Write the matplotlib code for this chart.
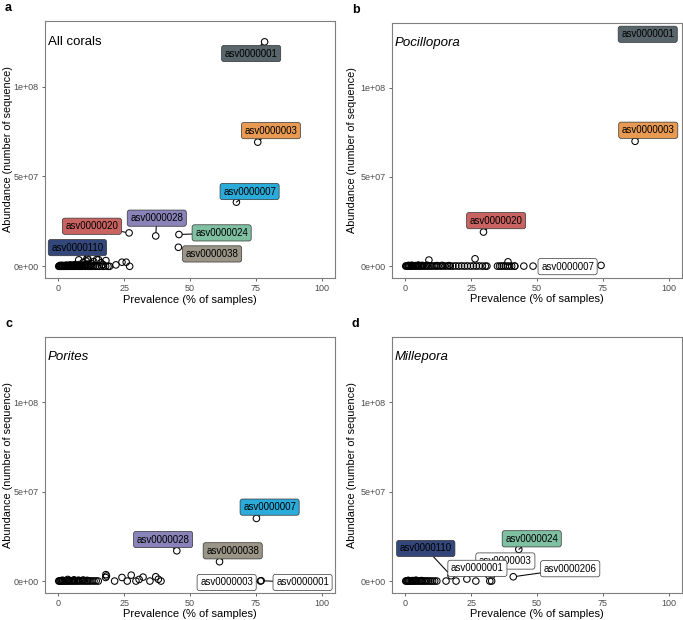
import matplotlib
matplotlib.use("Agg")
import matplotlib.pyplot as plt
import numpy as np

plt.rcParams['font.family'] = ['Liberation Sans', 'DejaVu Sans']

# colours of the highlighted ASVs
asv_colors = {
    'asv0000001': '#58656b',
    'asv0000003': '#e89a52',
    'asv0000007': '#2aabd9',
    'asv0000020': '#c96361',
    'asv0000028': '#8a83b9',
    'asv0000024': '#80c0a2',
    'asv0000038': '#9a9586',
    'asv0000110': '#34477a',
    'asv0000206': 'white',
}

# ---- panel a : all corals (prevalence %, abundance in millions)
a_x = [0.2, 0.4, 0.6, 0.9, 1.1, 1.4, 1.7, 2.0, 2.3, 2.6, 2.9, 3.3, 3.6, 4.0, 4.4, 4.8,
       5.2, 5.6, 6.0, 6.5, 6.9, 7.4, 7.8, 8.3, 8.8, 9.3, 9.8, 10.3, 10.9, 11.5, 12.1,
       12.8, 13.4, 14.1, 14.8, 15.6, 16.4, 17.2, 18.0, 18.9, 19.5, 7.8, 9.5, 10.6,
       11.4, 13.5, 14.6, 15.3, 16.2, 18.1, 21.9, 24.2, 25.8, 27.1, 17.0, 12.6,
       0.7, 1.5, 2.4, 3.1, 3.9, 4.6, 5.4, 6.2, 7.1, 8.0, 9.0, 10.1, 11.2, 12.4]
a_y = [0.0, 0.1, 0.0, 0.2, 0.0, 0.1, 0.0, 0.3, 0.0, 0.1, 0.0, 0.2, 0.0, 0.1, 0.3, 0.0,
       0.1, 0.0, 0.2, 0.0, 0.1, 0.4, 0.0, 0.2, 0.0, 0.1, 0.3, 0.0, 0.2, 0.0, 0.1,
       0.0, 0.3, 0.0, 0.1, 0.0, 0.2, 0.0, 0.1, 0.0, 0.0, 3.6, 2.2, 3.0, 3.6, 2.6,
       3.8, 3.7, 2.0, 3.2, 0.8, 2.3, 2.3, 0.0, 1.0, 1.5,
       0.5, 0.6, 0.4, 0.7, 0.5, 0.8, 0.6, 0.9, 0.5, 1.0, 0.6, 0.8, 1.2, 0.7]
a_names = ['asv0000001', 'asv0000003', 'asv0000007', 'asv0000020', 'asv0000028',
           'asv0000024', 'asv0000038', 'asv0000110']
a_px = [78.3, 75.7, 67.6, 26.9, 37.0, 45.8, 45.6, 11.0]
a_py = [124.9, 69.1, 35.7, 18.6, 16.9, 17.7, 10.6, 4.5]

# ---- panel b : Pocillopora
b_x = [0.2, 0.5, 0.8, 1.1, 1.5, 1.9, 2.3, 2.7, 3.1, 3.6, 4.1, 4.6, 5.1, 5.6, 6.2,
       6.8, 7.4, 8.0, 8.7, 9.4, 10.1, 10.9, 11.7, 12.5, 13.4, 14.3, 15.2, 16.1, 17.1,
       18.1, 19.2, 20.3, 21.4, 22.5, 23.6, 24.8, 25.9, 27.0, 28.1, 29.3, 30.4, 31.0,
       35.0, 35.8, 36.5, 37.2, 38.0, 38.8, 39.6, 40.4, 41.5, 41.6, 45.0, 48.5,
       9.0, 26.5, 39.0, 1.3, 2.5, 3.8, 5.0, 6.5, 8.3, 12.0, 14.0, 16.6]
b_y = [0.0, 0.1, 0.0, 0.2, 0.0, 0.1, 0.0, 0.2, 0.0, 0.1, 0.0, 0.2, 0.0, 0.1, 0.0,
       0.2, 0.0, 0.1, 0.0, 0.1, 0.0, 0.1, 0.0, 0.1, 0.0, 0.1, 0.0, 0.1, 0.0,
       0.0, 0.1, 0.0, 0.1, 0.0, 0.1, 0.0, 0.1, 0.0, 0.1, 0.0, 0.0, 0.0,
       0.0, 0.0, 0.0, 0.1, 0.0, 0.0, 0.0, 0.0, 0.0, 0.0, 0.0, 0.0,
       3.4, 4.1, 2.4, 0.4, 0.5, 0.3, 0.6, 0.4, 0.5, 0.3, 0.4, 0.3]
b_names = ['asv0000001', 'asv0000003', 'asv0000020', 'asv0000007']
b_px = [88.0, 87.2, 29.7, 74.3]
b_py = [129.5, 70.0, 19.1, 0.4]

# ---- panel c : Porites
c_x = [0.2, 0.5, 0.8, 1.1, 1.4, 1.8, 2.2, 2.6, 3.0, 3.4, 3.9, 4.3, 4.8, 5.3, 5.8,
       6.3, 6.8, 7.4, 8.0, 8.6, 9.2, 9.9, 10.6, 11.3, 12.0, 12.8, 13.6, 14.4, 15.2,
       18.1, 18.3, 18.0, 21.4, 24.2, 26.2, 27.7, 29.5, 30.7, 32.2, 34.8, 37.0, 38.0, 39.0,
       1.6, 3.6, 4.0, 6.0, 7.7, 9.5, 11.0]
c_y = [0.0, 0.1, 0.0, 0.2, 0.0, 0.1, 0.0, 0.2, 0.0, 0.1, 0.0, 0.3, 0.0, 0.1, 0.0,
       0.2, 0.0, 0.1, 0.0, 0.2, 0.0, 0.1, 0.0, 0.1, 0.0, 0.1, 0.0, 0.1, 0.0,
       3.6, 2.8, 2.0, 0.0, 2.0, 0.0, 3.3, 0.0, 0.9, 2.2, 0.0, 2.4, 1.0, 0.0,
       0.5, 0.9, 0.4, 0.7, 0.5, 0.6, 0.4]
c_names = ['asv0000007', 'asv0000028', 'asv0000038', 'asv0000003', 'asv0000001']
c_px = [75.2, 45.0, 61.2, 76.7, 77.0]
c_py = [35.0, 16.9, 10.8, 0.0, 0.2]

# ---- panel d : Millepora
d_x = [0.2, 0.5, 0.8, 1.1, 1.4, 1.8, 2.2, 2.6, 3.0, 3.4, 3.9, 4.4, 4.9, 5.4, 5.9,
       6.5, 7.1, 7.7, 8.3, 9.0, 9.7, 10.4, 11.2, 12.0, 15.5, 19.3, 23.4, 26.8,
       1.2, 2.8, 4.1, 6.2]
d_y = [0.0, 0.1, 0.0, 0.1, 0.0, 0.1, 0.0, 0.1, 0.0, 0.1, 0.0, 0.1, 0.0, 0.1, 0.0,
       0.1, 0.0, 0.0, 0.1, 0.0, 0.0, 0.0, 0.0, 0.0, 0.0, 0.0, 1.1, 0.0,
       0.4, 0.3, 0.5, 0.3]
d_names = ['asv0000024', 'asv0000110', 'asv0000003', 'asv0000001', 'asv0000206']
d_px = [43.1, 17.4, 32.8, 32.1, 41.0]
d_py = [17.7, 3.0, 0.0, 0.0, 2.4]

# where the repelled labels sit (x %, y millions)
label_pos = {
    'a': [(73.2, 118.4), (80.7, 75.5), (72.6, 41.6), (12.8, 22.3), (37.4, 26.8),
          (62.0, 18.6), (58.4, 6.9), (7.3, 10.4)],
    'b': [(92.0, 130.0), (92.2, 76.2), (34.5, 25.5), (61.6, -0.3)],
    'c': [(80.2, 41.3), (39.8, 23.2), (66.2, 16.9), (63.9, -0.8), (92.7, -0.8)],
    'd': [(48.0, 23.6), (7.8, 18.2), (38.0, 11.2), (27.4, 7.1), (62.6, 6.9)],
}

# labels drawn white in panels b-d (ASV not characteristic for that coral)
white_labels = {
    'b': ['asv0000007'],
    'c': ['asv0000003', 'asv0000001'],
    'd': ['asv0000003', 'asv0000001', 'asv0000206'],
}

W, H = 683, 620
fig = plt.figure(figsize=(W / 100, H / 100), dpi=100)


def px_axes(left, top, right, bottom):
    return fig.add_axes([left / W, 1 - bottom / H, (right - left) / W, (bottom - top) / H])


panels = [
    ('a', 'All corals', 'normal', (45, 21, 335, 278), a_x, a_y, a_names, a_px, a_py),
    ('b', 'Pocillopora', 'italic', (392, 22.7, 682, 277.7), b_x, b_y, b_names, b_px, b_py),
    ('c', 'Porites', 'italic', (45, 336.7, 335, 592.7), c_x, c_y, c_names, c_px, c_py),
    ('d', 'Millepora', 'italic', (392, 336.7, 682, 592.7), d_x, d_y, d_names, d_px, d_py),
]

for key, title, style, box, xs, ys, names, pxs, pys in panels:
    ax = px_axes(*box)
    ax.scatter(xs, np.array(ys) * 1e6, s=22, facecolors='none', edgecolors='black',
               linewidths=0.75, zorder=2)
    ax.scatter(pxs, np.array(pys) * 1e6, s=22, facecolors='none', edgecolors='black',
               linewidths=0.75, zorder=2)
    for name, px, py, (lx, ly) in zip(names, pxs, pys, label_pos[key]):
        fc = 'white' if name in white_labels.get(key, []) else asv_colors[name]
        ax.annotate(name, xy=(px, py * 1e6), xytext=(lx, ly * 1e6),
                    ha='center', va='center', fontsize=7, color='black', zorder=4,
                    bbox=dict(boxstyle='round,pad=0.32,rounding_size=0.25', fc=fc,
                              ec='#333333', lw=0.5),
                    arrowprops=dict(arrowstyle='-', color='black', lw=0.75,
                                    shrinkA=0, shrinkB=2.6))
    ax.set_xlim(-5, 105)
    ax.set_ylim(-6.5e6, 1.365e8)
    ax.set_xticks([0, 25, 50, 75, 100])
    ax.set_xticklabels(['0', '25', '50', '75', '100'])
    ax.set_yticks([0, 5e7, 1e8])
    ax.set_yticklabels(['0e+00', '5e+07', '1e+08'])
    ax.tick_params(labelsize=6.5, colors='#4d4d4d', length=2.5, width=0.6, pad=2)
    for sp in ax.spines.values():
        sp.set_color('#7f7f7f')
        sp.set_linewidth(0.8)
    ax.set_xlabel('Prevalence (% of samples)', fontsize=8, labelpad=1)
    ax.set_ylabel('Abundance (number of sequence)', fontsize=7.8)
    ylab_x = -0.110 if key in 'ac' else -0.121
    ax.yaxis.set_label_coords(ylab_x, 0.5)
    ax.text(0.01, 0.92, title, transform=ax.transAxes, fontsize=9.5, style=style,
            ha='left', va='center')
    fig.text((box[0] - 40) / W, 1 - (box[1] - 13) / H, key, fontsize=9,
             fontweight='bold', ha='left', va='center')

fig.savefig('out.png', dpi=100)
